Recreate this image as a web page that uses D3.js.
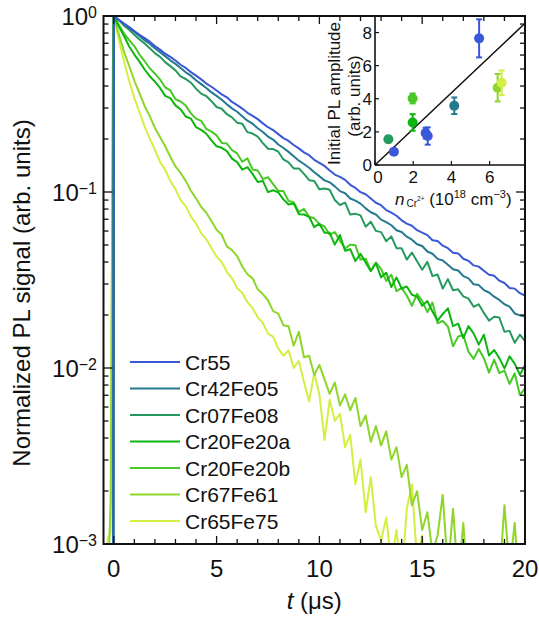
<!DOCTYPE html>
<html><head><meta charset="utf-8">
<script src="https://cdn.jsdelivr.net/npm/d3@7"></script>
<style>
body{margin:0;background:#fff}
svg{display:block}
text{font-family:"Liberation Sans",Arial,Helvetica,sans-serif;fill:#111}
</style>
</head><body>
<svg id="c" width="539" height="621"></svg>
<script>
// ---------------- data ----------------
// time axis (µs); the first four points are the pre-pulse baseline / rise
const times = [-0.6,-0.3,-0.15,-0.03,
 0,0.25,0.5,0.75,1,1.25,1.5,1.75,2,2.25,2.5,2.75,3,3.25,3.5,3.75,4,4.25,4.5,4.75,5,
 5.25,5.5,5.75,6,6.25,6.5,6.75,7,7.25,7.5,7.75,8,8.25,8.5,8.75,9,9.25,9.5,9.75,10,
 10.25,10.5,10.75,11,11.25,11.5,11.75,12,12.25,12.5,12.75,13,13.25,13.5,13.75,14,14.25,14.5,14.75,15,
 15.25,15.5,15.75,16,16.25,16.5,16.75,17,17.25,17.5,17.75,18,18.25,18.5,18.75,19,19.25,19.5,19.75,20];

// normalized PL signal, stored as log10
const logCr55 = [-4,-4,-4,-4,
 0,-0.021,-0.043,-0.063,-0.085,-0.107,-0.126,-0.146,-0.171,-0.191,-0.214,-0.232,-0.253,-0.277,-0.295,-0.319,-0.339,-0.360,-0.384,-0.402,-0.423,
 -0.446,-0.462,-0.488,-0.506,-0.526,-0.550,-0.567,-0.586,-0.610,-0.632,-0.648,-0.671,-0.694,-0.710,-0.733,-0.752,-0.775,-0.791,-0.817,-0.834,
 -0.852,-0.878,-0.901,-0.914,-0.931,-0.959,-0.977,-1.001,-1.013,-1.037,-1.061,-1.075,-1.103,-1.117,-1.135,-1.161,-1.180,-1.192,-1.217,-1.231,
 -1.245,-1.274,-1.279,-1.305,-1.319,-1.345,-1.349,-1.379,-1.391,-1.417,-1.424,-1.447,-1.470,-1.476,-1.504,-1.517,-1.545,-1.549,-1.575,-1.588];
const logCr42Fe05 = [-4,-4,-4,-4,
 0,-0.024,-0.046,-0.070,-0.090,-0.113,-0.138,-0.157,-0.183,-0.205,-0.228,-0.252,-0.272,-0.295,-0.320,-0.339,-0.365,-0.387,-0.409,-0.434,-0.454,
 -0.476,-0.502,-0.525,-0.544,-0.569,-0.595,-0.612,-0.638,-0.659,-0.685,-0.702,-0.730,-0.750,-0.772,-0.797,-0.822,-0.841,-0.862,-0.888,-0.910,
 -0.934,-0.945,-0.968,-0.995,-1.007,-1.037,-1.049,-1.066,-1.093,-1.115,-1.128,-1.157,-1.171,-1.189,-1.217,-1.227,-1.254,-1.271,-1.297,-1.307,
 -1.338,-1.351,-1.380,-1.389,-1.414,-1.439,-1.446,-1.478,-1.491,-1.524,-1.529,-1.557,-1.571,-1.595,-1.613,-1.638,-1.651,-1.690,-1.701,-1.708];
const logCr07Fe08 = [-4,-4,-4,-4,
 0,-0.023,-0.055,-0.078,-0.106,-0.133,-0.156,-0.183,-0.211,-0.232,-0.262,-0.285,-0.309,-0.343,-0.358,-0.379,-0.413,-0.441,-0.455,-0.484,-0.517,
 -0.527,-0.558,-0.576,-0.606,-0.612,-0.660,-0.668,-0.685,-0.722,-0.754,-0.756,-0.771,-0.815,-0.832,-0.866,-0.866,-0.897,-0.933,-0.938,-0.985,
 -0.980,-0.987,-1.046,-1.074,-1.060,-1.128,-1.123,-1.133,-1.197,-1.169,-1.221,-1.228,-1.280,-1.252,-1.319,-1.320,-1.384,-1.344,-1.393,-1.442,
 -1.397,-1.478,-1.469,-1.549,-1.495,-1.558,-1.553,-1.593,-1.606,-1.652,-1.638,-1.687,-1.731,-1.709,-1.713,-1.794,-1.789,-1.857,-1.811,-1.847];
const logCr20Fe20a = [-4,-4,-4,-4,
 0,-0.060,-0.114,-0.173,-0.219,-0.259,-0.304,-0.342,-0.373,-0.409,-0.454,-0.467,-0.508,-0.531,-0.571,-0.583,-0.632,-0.647,-0.669,-0.707,-0.740,
 -0.749,-0.768,-0.810,-0.830,-0.873,-0.859,-0.897,-0.943,-0.937,-1.001,-0.990,-1.002,-1.042,-1.071,-1.065,-1.126,-1.128,-1.141,-1.200,-1.180,
 -1.231,-1.232,-1.299,-1.244,-1.334,-1.325,-1.392,-1.351,-1.400,-1.450,-1.405,-1.485,-1.459,-1.540,-1.486,-1.548,-1.537,-1.584,-1.594,-1.646,
 -1.620,-1.679,-1.731,-1.693,-1.661,-1.762,-1.748,-1.830,-1.762,-1.803,-1.867,-1.811,-1.929,-1.898,-1.944,-2.002,-1.934,-1.975,-2.039,-1.983];
const logCr20Fe20b = [-4,-4,-4,-4,
 0,-0.051,-0.100,-0.137,-0.171,-0.219,-0.257,-0.297,-0.327,-0.361,-0.405,-0.423,-0.473,-0.486,-0.509,-0.553,-0.583,-0.596,-0.641,-0.657,-0.678,
 -0.721,-0.725,-0.762,-0.781,-0.828,-0.809,-0.872,-0.878,-0.927,-0.916,-0.955,-0.994,-0.995,-1.051,-1.058,-1.114,-1.096,-1.141,-1.150,-1.183,
 -1.196,-1.242,-1.228,-1.277,-1.321,-1.299,-1.303,-1.384,-1.379,-1.447,-1.401,-1.437,-1.505,-1.470,-1.564,-1.545,-1.588,-1.647,-1.579,-1.619,
 -1.683,-1.628,-1.746,-1.732,-1.764,-1.877,-1.821,-1.813,-1.907,-1.948,-1.892,-1.944,-2.026,-1.953,-2.029,-2.015,-2.091,-2.030,-2.154,-2.116];
const logCr67Fe61 = [-4,-3.3,-2.75,-0.01,
 0,-0.105,-0.204,-0.284,-0.368,-0.438,-0.511,-0.569,-0.636,-0.688,-0.740,-0.800,-0.855,-0.892,-0.937,-0.993,-1.036,-1.085,-1.118,-1.165,-1.215,
 -1.243,-1.309,-1.330,-1.364,-1.423,-1.467,-1.490,-1.553,-1.580,-1.615,-1.677,-1.691,-1.757,-1.763,-1.873,-1.794,-1.939,-1.930,-2.040,-1.982,
 -2.065,-2.147,-2.082,-2.213,-2.15,-2.24,-2.17,-2.33,-2.27,-2.42,-2.33,-2.44,-2.36,-2.52,-2.45,-2.62,-2.55,-2.78,-2.70,-2.92,
 -2.82,-3.05,-2.95,-2.72,-3.15,-2.80,-3.2,-2.88,-3.3,-3.4,-3.25,-3.4,-3.3,-3.5,-3.2,-2.78,-3.15,-2.88,-3.3,-3.4];
const logCr65Fe75 = [-4,-2.97,-2.93,-0.01,
 0,-0.138,-0.258,-0.370,-0.466,-0.546,-0.629,-0.697,-0.760,-0.829,-0.874,-0.937,-0.984,-1.045,-1.080,-1.140,-1.179,-1.235,-1.268,-1.318,-1.368,
 -1.398,-1.455,-1.490,-1.547,-1.572,-1.626,-1.660,-1.712,-1.744,-1.805,-1.822,-1.890,-1.93,-1.90,-2.00,-1.96,-2.08,-2.19,-2.03,-2.15,
 -2.41,-2.18,-2.30,-2.26,-2.45,-2.38,-2.66,-2.52,-2.82,-2.62,-2.90,-2.98,-2.85,-3.10,-2.92,-3.2,-2.80,-2.66,-3.1,-2.95,
 -3.3,-3.1,-3.4,-3.3,-3.5,-3.4,-3.5,-3.5,-3.5,-3.5,-3.5,-3.5,-3.5,-3.5,-3.5,-3.5,-3.5,-3.5,-3.5,-3.5];

const sampleNames = ["Cr55","Cr42Fe05","Cr07Fe08","Cr20Fe20a","Cr20Fe20b","Cr67Fe61","Cr65Fe75"];
const sampleLogs  = [logCr55,logCr42Fe05,logCr07Fe08,logCr20Fe20a,logCr20Fe20b,logCr67Fe61,logCr65Fe75];

// axis ticks
const xMajorTicks = [0,5,10,15,20];
const yMajorTicks = [1e-3,1e-2,1e-1,1];
const yTickExponents = ["−3","−2","−1","0"];

// inset: initial PL amplitude vs Cr2+ density
const insetDensity = [0.70,0.99,1.97,1.97,2.65,2.76,4.15,5.45,6.42,6.63];
const insetAmp     = [1.55,0.80,4.02,2.57,1.93,1.75,3.58,7.65,4.67,4.97];
const insetErr     = [0.18,0.13,0.30,0.50,0.32,0.52,0.50,1.15,0.83,0.74];
const insetSample  = ["Cr07Fe08","Cr55","Cr20Fe20b","Cr20Fe20a","Cr55","Cr55","Cr42Fe05","Cr55","Cr67Fe61","Cr65Fe75"];
const insetXTicks = [0,2,4,6];
const insetYTicks = [0,2,4,6,8];
const fitSlope = 1.09;
const fitRange = [0,7.8];

// ---------------- styles ----------------
const colors = ["#3a57d8","#25798f","#259a5e","#0db50f","#48c926","#8fd52a","#d5ee42"];
const colorOf = n => colors[sampleNames.indexOf(n)];

// ---------------- chart ----------------
const svg = d3.select("#c");
const P = {l:103.5, r:525, t:16, b:544};
const x = d3.scaleLinear().domain([-0.5,20]).range([P.l,P.r]);
const y = d3.scaleLog().domain([1e-3,1]).range([P.b,P.t]);

svg.append("clipPath").attr("id","clip").append("rect")
  .attr("x",P.l).attr("y",P.t).attr("width",P.r-P.l).attr("height",P.b-P.t);

const line = d3.line().x((d,i)=>x(times[i])).y(d=>y(Math.pow(10,d)));
const curves = svg.append("g").attr("clip-path","url(#clip)");
for (let k = sampleNames.length-1; k >= 0; k--) {
  curves.append("path").datum(sampleLogs[k]).attr("d",line)
    .attr("fill","none").attr("stroke",colors[k]).attr("stroke-width",2)
    .attr("stroke-linejoin","round");
}

// frame ticks (inward)
const xMinor = d3.range(0,21).filter(v=>v%5!==0);
const yMinor = [];
[-3,-2,-1].forEach(e=>{for(let m=2;m<=9;m++) yMinor.push(m*Math.pow(10,e));});
const tk = svg.append("g").attr("stroke","#111").attr("stroke-width",1.3);
function xt(v,len){
  tk.append("line").attr("x1",x(v)).attr("x2",x(v)).attr("y1",P.b).attr("y2",P.b-len);
  tk.append("line").attr("x1",x(v)).attr("x2",x(v)).attr("y1",P.t).attr("y2",P.t+len);
}
function yt(v,len){
  tk.append("line").attr("y1",y(v)).attr("y2",y(v)).attr("x1",P.l).attr("x2",P.l+len);
  tk.append("line").attr("y1",y(v)).attr("y2",y(v)).attr("x1",P.r).attr("x2",P.r-len);
}
xMajorTicks.forEach(v=>xt(v,8)); xMinor.forEach(v=>xt(v,5));
yMajorTicks.forEach(v=>yt(v,9)); yMinor.forEach(v=>yt(v,5));

svg.append("rect").attr("x",P.l).attr("y",P.t).attr("width",P.r-P.l).attr("height",P.b-P.t)
  .attr("fill","none").attr("stroke","#111").attr("stroke-width",2);

// tick labels
svg.append("g").selectAll("text").data(xMajorTicks).join("text")
  .attr("x",d=>x(d)).attr("y",577).attr("text-anchor","middle")
  .attr("font-size",24).text(d=>d);
const yl = svg.append("g").selectAll("text").data(yMajorTicks).join("text")
  .attr("x",97).attr("y",d=>y(d)+9).attr("text-anchor","end").attr("font-size",24);
yl.append("tspan").text("10");
yl.append("tspan").attr("font-size",16).attr("dy",-7).text((d,i)=>yTickExponents[i]);

// axis titles
const xl = svg.append("text").attr("x",(P.l+P.r)/2).attr("y",609).attr("text-anchor","middle").attr("font-size",24);
xl.append("tspan").attr("font-style","italic").text("t");
xl.append("tspan").text(" (μs)");
svg.append("text").attr("transform","translate(30,293) rotate(-90)")
  .attr("text-anchor","middle").attr("font-size",24).text("Normalized PL signal (arb. units)");

// legend
const lg = svg.append("g");
sampleNames.forEach((n,i)=>{
  const yy = 362 + i*26.5;
  lg.append("line").attr("x1",130).attr("x2",180).attr("y1",yy).attr("y2",yy)
    .attr("stroke",colors[i]).attr("stroke-width",2.2);
  lg.append("text").attr("x",185).attr("y",yy+7.5).attr("font-size",21).text(n);
});

// ---------------- inset ----------------
const IX = d3.scaleLinear().domain([0,7.8]).range([375,524]);
const IY = d3.scaleLinear().domain([0,9]).range([165,16]);
const ig = svg.append("g");
// inset axes
ig.append("line").attr("x1",IX(0)).attr("x2",IX(0)).attr("y1",IY(9)).attr("y2",IY(0)).attr("stroke","#111").attr("stroke-width",1.6);
ig.append("line").attr("x1",IX(0)).attr("x2",IX(7.8)).attr("y1",IY(0)).attr("y2",IY(0)).attr("stroke","#111").attr("stroke-width",1.6);
insetXTicks.forEach(v=>{
  ig.append("line").attr("x1",IX(v)).attr("x2",IX(v)).attr("y1",IY(0)).attr("y2",IY(0)-4).attr("stroke","#111").attr("stroke-width",1.2);
  ig.append("text").attr("x",IX(v)+(v===0?3:0)).attr("y",183).attr("text-anchor","middle").attr("font-size",17).text(v);
});
insetYTicks.forEach(v=>{
  ig.append("line").attr("x1",IX(0)).attr("x2",IX(0)+4).attr("y1",IY(v)).attr("y2",IY(v)).attr("stroke","#111").attr("stroke-width",1.2);
  ig.append("text").attr("x",372).attr("y",IY(v)+6).attr("text-anchor","end").attr("font-size",17).text(v);
});
// fit line
ig.append("line").attr("x1",IX(fitRange[0])).attr("y1",IY(fitSlope*fitRange[0]))
  .attr("x2",IX(fitRange[1])).attr("y2",IY(fitSlope*fitRange[1])).attr("stroke","#111").attr("stroke-width",1.5);
// points with error bars
insetDensity.forEach((d,i)=>{
  const c = colorOf(insetSample[i]);
  const cx = IX(d), y0 = IY(insetAmp[i]-insetErr[i]), y1 = IY(insetAmp[i]+insetErr[i]);
  ig.append("line").attr("x1",cx).attr("x2",cx).attr("y1",y0).attr("y2",y1).attr("stroke",c).attr("stroke-width",2);
  ig.append("line").attr("x1",cx-3).attr("x2",cx+3).attr("y1",y0).attr("y2",y0).attr("stroke",c).attr("stroke-width",2);
  ig.append("line").attr("x1",cx-3).attr("x2",cx+3).attr("y1",y1).attr("y2",y1).attr("stroke",c).attr("stroke-width",2);
  ig.append("circle").attr("cx",cx).attr("cy",IY(insetAmp[i])).attr("r",5).attr("fill",c);
});
// inset titles
ig.append("text").attr("transform","translate(340,93.5) rotate(-90)").attr("text-anchor","middle")
  .attr("font-size",17).text("Initial PL amplitude");
ig.append("text").attr("transform","translate(360,96) rotate(-90)").attr("text-anchor","middle")
  .attr("font-size",17).text("(arb. units)");
const ixl = ig.append("text").attr("x",395).attr("y",205).attr("font-size",17);
ixl.append("tspan").attr("font-style","italic").text("n");
ixl.append("tspan").attr("font-size",10).attr("dx",2).attr("dy",2).text("Cr");
ixl.append("tspan").attr("font-size",6.5).attr("dy",-6).text("2+");
ixl.append("tspan").attr("dy",4).text(" (10");
ixl.append("tspan").attr("font-size",11).attr("dy",-7).text("18");
ixl.append("tspan").attr("dy",7).text(" cm");
ixl.append("tspan").attr("font-size",11).attr("dy",-7).text("−3");
ixl.append("tspan").attr("dy",7).text(")");
</script>
</body></html>
